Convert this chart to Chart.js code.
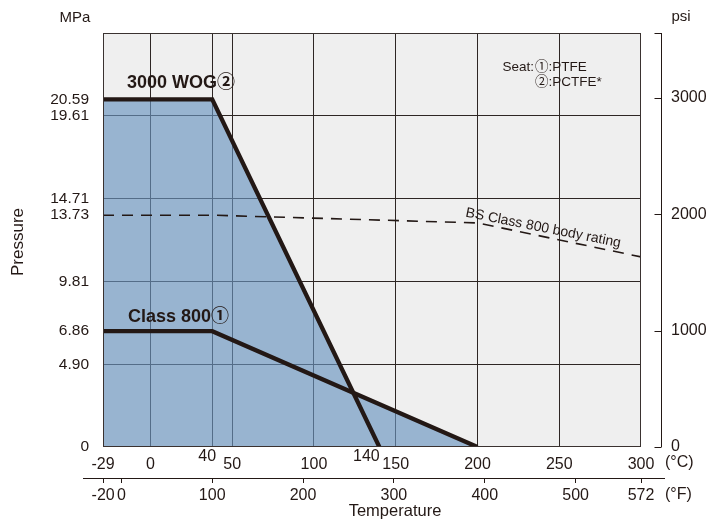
<!DOCTYPE html>
<html><head><meta charset="utf-8">
<script src="https://cdn.jsdelivr.net/npm/chart.js@4.4.0/dist/chart.umd.min.js"></script>
<style>html,body{margin:0;padding:0;background:#fff}#wrap{width:713px;height:526px;position:relative}</style>
</head><body><div id="wrap"><canvas id="c"></canvas></div>
<script>
// ---- data ----
const wogTemp = [-29, 37.8, 140];
const wogPressure = [20.59, 20.59, 0];
const c800Temp = [-29, 37.8, 200];
const c800Pressure = [6.86, 6.86, 0];
const bsTemp = [-29, 37.8, 200, 300];
const bsPressure = [13.73, 13.73, 13.27, 11.26];
const mpaTicks = [0, 4.90, 6.86, 9.81, 13.73, 14.71, 19.61, 20.59];
const mpaGrid = [4.90, 9.81, 14.71, 19.61];
const celsiusTicks = [-29, 0, 37.8, 50, 100, 140, 150, 200, 250, 300];
const celsiusGrid = [0, 37.8, 50, 100, 150, 200, 250];
const raisedLabels = {37.8: '40', 140: '140'};
const fahrenheitTicks = [-20, 0, 100, 200, 300, 400, 500, 572];
const psiTicks = [0, 1000, 2000, 3000];
const mpaMax = 24.52;
const cMin = -29, cMax = 300;
const MPA_PER_PSI = 0.00689476;

const DARK = '#231815';
const FONT = "'Liberation Sans', Arial, 'Noto Sans CJK JP', sans-serif";

function toPts(xs, ys){ return xs.map((x,i)=>({x:x, y:ys[i]})); }
function valAt(xs, ys, x){
  for (let i=0;i<xs.length-1;i++){
    if (x>=xs[i] && x<=xs[i+1]) return ys[i]+(ys[i+1]-ys[i])*(x-xs[i])/(xs[i+1]-xs[i]);
  }
  return 0;
}
// upper envelope of the two rating lines (area shaded blue)
function envelope(){
  let xs = Array.from(new Set([...wogTemp, ...c800Temp])).sort((a,b)=>a-b);
  const out = [];
  for (let i=0;i<xs.length;i++){
    const x = xs[i];
    const a = valAt(wogTemp, wogPressure, x), b = valAt(c800Temp, c800Pressure, x);
    if (i>0){
      const px = xs[i-1];
      const pa = valAt(wogTemp, wogPressure, px), pb = valAt(c800Temp, c800Pressure, px);
      const d0 = pa-pb, d1 = a-b;
      if (d0*d1<0){
        const t = d0/(d0-d1);
        const cx = px + t*(x-px);
        out.push({x:cx, y:valAt(wogTemp, wogPressure, cx)});
      }
    }
    out.push({x:x, y:Math.max(a,b)});
  }
  return out;
}

const deco = {
  id:'deco',
  beforeDraw(chart){
    const {ctx, chartArea:a} = chart;
    ctx.save(); ctx.fillStyle = '#efefef';
    ctx.fillRect(a.left, a.top, a.right-a.left, a.bottom-a.top);
    ctx.restore();
  },
  afterDatasetsDraw(chart){
    const {ctx, chartArea:a} = chart;
    ctx.save(); ctx.strokeStyle = '#3a3230'; ctx.lineWidth = 1;
    ctx.strokeRect(a.left+0.5, a.top+0.5, a.right-a.left-1, a.bottom-a.top-1);
    ctx.restore();
  },
  afterDraw(chart){
    const {ctx, chartArea:a, scales} = chart;
    const xs = scales.x, ys = scales.y, y2 = scales.y2, x2 = scales.x2;
    ctx.save();
    ctx.fillStyle = DARK; ctx.strokeStyle = DARK; ctx.lineWidth = 1;
    // right psi axis line with inward ticks
    const X = Math.round(a.right + 20) + 0.5;
    ctx.beginPath(); ctx.moveTo(X, a.top); ctx.lineTo(X, a.bottom); ctx.stroke();
    const tk = [a.top+0.5].concat(psiTicks.map(v=>Math.round(y2.getPixelForValue(v))+0.5));
    tk.forEach(y=>{ctx.beginPath(); ctx.moveTo(X-7, y); ctx.lineTo(X, y); ctx.stroke();});
    // fahrenheit axis line
    const FY = Math.round(x2.top)+0.5;
    ctx.beginPath(); ctx.moveTo(a.left-20, FY); ctx.lineTo(a.right+24, FY); ctx.stroke();
    // raised celsius labels
    ctx.font = '16px '+FONT; ctx.textAlign='center'; ctx.textBaseline='middle';
    ctx.fillText(raisedLabels[37.8], xs.getPixelForValue(37.8)-5, a.bottom+10);
    ctx.fillText(raisedLabels[140], xs.getPixelForValue(140)-13, a.bottom+10);
    // units
    ctx.textAlign='left';
    ctx.fillText('(°C)', a.right+24, a.bottom+16);
    ctx.fillText('(°F)', a.right+24, x2.top+17);
    ctx.font = '15px '+FONT;
    ctx.textAlign='center';
    ctx.fillText('MPa', 75, 18);
    ctx.fillText('psi', 681, 17);
    ctx.font = '16.5px '+FONT;
    ctx.fillText('Temperature', 395, 511);
    ctx.save(); ctx.translate(18, 242); ctx.rotate(-Math.PI/2);
    ctx.font = '17px '+FONT; ctx.fillText('Pressure', 0, 0); ctx.restore();
    // series labels
    ctx.textAlign='left';
    ctx.font = 'bold 18px '+FONT;
    ctx.fillText('3000 WOG②', xs.getPixelForValue(-29)+24, ys.getPixelForValue(20.59)-16);
    ctx.fillText('Class 800①', xs.getPixelForValue(-29)+25, ys.getPixelForValue(6.86)-14);
    // seat legend
    ctx.font = '13.5px '+FONT;
    ctx.textAlign='right'; ctx.fillText('Seat:', 534, 67);
    ctx.textAlign='left';
    ctx.fillText('①:PTFE', 535, 67);
    ctx.fillText('②:PCTFE*', 535, 82);
    // BS label rotated along the dashed line
    ctx.save();
    ctx.translate(465, 216.5); ctx.rotate(11.2*Math.PI/180);
    ctx.font = '14px '+FONT; ctx.textBaseline='alphabetic';
    ctx.fillText('BS Class 800 body rating', 0, 0);
    ctx.restore();
    ctx.restore();
  }
};

new Chart(document.getElementById('c'), {
  type:'line',
  data:{
    datasets:[
      {label:'3000 WOG', data:toPts(wogTemp, wogPressure), borderColor:DARK, borderWidth:4.3, pointRadius:0, fill:false, borderJoinStyle:'miter', xAxisID:'x', yAxisID:'y'},
      {label:'Class 800', data:toPts(c800Temp, c800Pressure), borderColor:DARK, borderWidth:4.3, pointRadius:0, fill:false, borderJoinStyle:'miter', xAxisID:'x', yAxisID:'y'},
      {label:'BS Class 800 body rating', data:toPts(bsTemp, bsPressure), borderColor:DARK, borderWidth:1.6, borderDash:[11,8], pointRadius:0, fill:false, xAxisID:'x', yAxisID:'y'},
      {label:'area', data:envelope(), borderWidth:0, borderColor:'rgba(0,0,0,0)', backgroundColor:'rgba(105,148,190,0.65)', pointRadius:0, fill:'origin', xAxisID:'x', yAxisID:'y'}
    ]
  },
  options:{
    responsive:true, maintainAspectRatio:false, animation:false,
    layout:{padding:{top:33, left:0, right:0, bottom:0}},
    plugins:{legend:{display:false}, tooltip:{enabled:false}},
    elements:{line:{tension:0}},
    scales:{
      x:{type:'linear', position:'bottom', min:cMin, max:cMax,
        afterBuildTicks:s=>{s.ticks = celsiusTicks.map(v=>({value:v}));},
        afterFit:s=>{s.height = 31;},
        border:{display:false},
        grid:{drawTicks:false, lineWidth:1, color:c=> celsiusGrid.includes(c.tick && c.tick.value) ? '#2e2624' : 'rgba(0,0,0,0)'},
        ticks:{autoSkip:false, maxRotation:0, padding:8, color:DARK, font:{family:FONT, size:16},
          callback:v=> (v in raisedLabels) ? '' : String(v)}
      },
      x2:{type:'linear', position:'bottom', min:cMin*9/5+32, max:cMax*9/5+32,
        afterBuildTicks:s=>{s.ticks = fahrenheitTicks.map(v=>({value:v}));},
        afterFit:s=>{s.height = 48;},
        border:{display:false},
        grid:{drawOnChartArea:false, drawTicks:true, tickLength:5, color:DARK, lineWidth:1},
        ticks:{autoSkip:false, maxRotation:0, padding:3, color:DARK, font:{family:FONT, size:16}, callback:v=>String(v)}
      },
      y:{type:'linear', position:'left', min:0, max:mpaMax,
        afterBuildTicks:s=>{s.ticks = mpaTicks.map(v=>({value:v}));},
        afterFit:s=>{s.width = 103;},
        border:{display:false},
        grid:{drawTicks:false, lineWidth:1, color:c=> mpaGrid.includes(c.tick && c.tick.value) ? '#2e2624' : 'rgba(0,0,0,0)'},
        ticks:{autoSkip:false, padding:14, color:DARK, font:{family:FONT, size:15.5},
          callback:v=> v===0 ? '0' : v.toFixed(2)}
      },
      y2:{type:'linear', position:'right', min:0, max:mpaMax/MPA_PER_PSI,
        afterBuildTicks:s=>{s.ticks = psiTicks.map(v=>({value:v}));},
        afterFit:s=>{s.width = 72;},
        border:{display:false},
        grid:{drawOnChartArea:false, drawTicks:true, tickLength:27, color:'rgba(0,0,0,0)'},
        ticks:{autoSkip:false, padding:3, color:DARK, font:{family:FONT, size:16}, callback:v=>String(v)}
      }
    }
  },
  plugins:[deco]
});
</script>
</body></html>
